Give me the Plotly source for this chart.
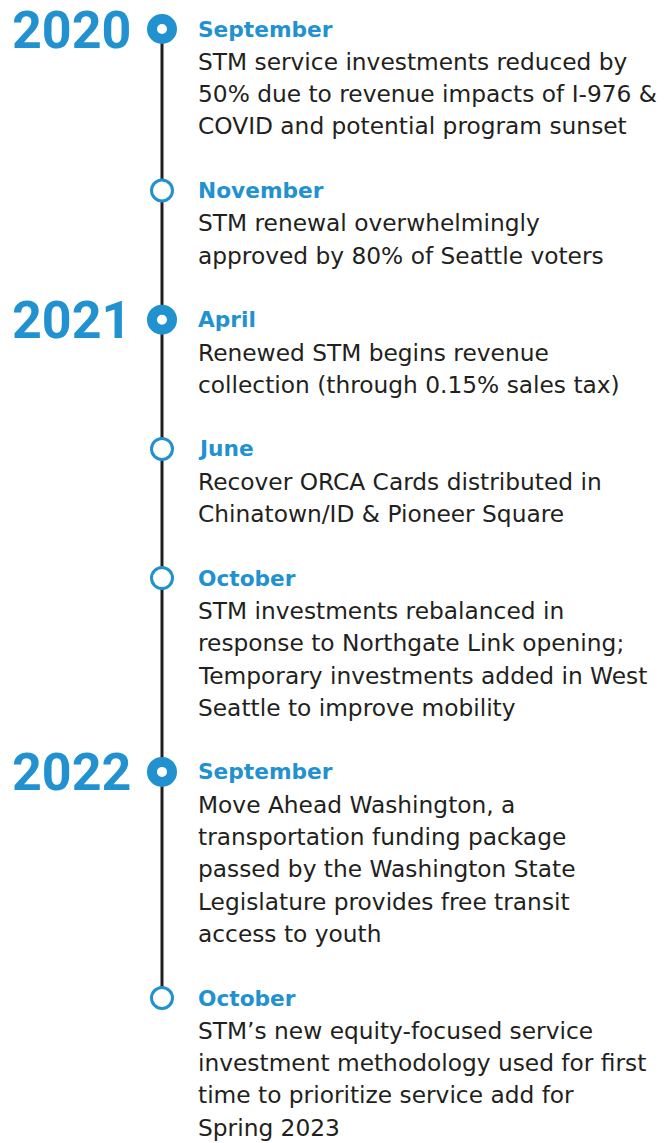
import plotly.graph_objects as go

# ---- data ----
years = ["2020", "2021", "2022"]
event_years = ["2020", "2020", "2021", "2021", "2021", "2022", "2022"]
months = ["September", "November", "April", "June", "October", "September", "October"]
descriptions = [
    ["STM service investments reduced by",
     "50% due to revenue impacts of I-976 &",
     "COVID and potential program sunset"],
    ["STM renewal overwhelmingly",
     "approved by 80% of Seattle voters"],
    ["Renewed STM begins revenue",
     "collection (through 0.15% sales tax)"],
    ["Recover ORCA Cards distributed in",
     "Chinatown/ID & Pioneer Square"],
    ["STM investments rebalanced in",
     "response to Northgate Link opening;",
     "Temporary investments added in West",
     "Seattle to improve mobility"],
    ["Move Ahead Washington, a",
     "transportation funding package",
     "passed by the Washington State",
     "Legislature provides free transit",
     "access to youth"],
    ["STM\u2019s new equity-focused service",
     "investment methodology used for first",
     "time to prioritize service add for",
     "Spring 2023"],
]

# ---- styling / layout constants ----
PAGE_W, PAGE_H = 670, 1143
OFF = 8  # default body margin of the html page
BLUE = "#2291D0"
DARK = "#231F20"
LINE_H = 32.3
TOP = 29
AXIS_X = 162
TEXT_X = 196
YEAR_X = 133
BODY_FONT = "DejaVu Sans"
YEAR_FONT = "Roboto"
BODY_SIZE = 23.3
TITLE_SIZE = 21.7

# compute vertical positions from line counts
title_y = []
y = TOP
for desc in descriptions:
    title_y.append(y)
    y += LINE_H * (len(desc) + 2)

first_of_year = []
seen = set()
for yr in event_years:
    first_of_year.append(yr not in seen)
    seen.add(yr)

fig = go.Figure()

fig.add_trace(go.Scatter(
    x=[AXIS_X] * len(title_y), y=title_y, mode="lines",
    line=dict(color=DARK, width=3), hoverinfo="skip", showlegend=False))

sx = [AXIS_X for f in first_of_year if not f]
sy = [t for t, f in zip(title_y, first_of_year) if not f]
fig.add_trace(go.Scatter(
    x=sx, y=sy, mode="markers",
    marker=dict(size=21, color="white", line=dict(color=BLUE, width=3)),
    hoverinfo="skip", showlegend=False))

yx = [AXIS_X for f in first_of_year if f]
yy = [t for t, f in zip(title_y, first_of_year) if f]
fig.add_trace(go.Scatter(
    x=yx, y=yy, mode="markers",
    marker=dict(size=20, color="white", line=dict(color=BLUE, width=10)),
    hoverinfo="skip", showlegend=False))

annotations = []
for i, (yr, mo, desc) in enumerate(zip(event_years, months, descriptions)):
    ty = title_y[i]
    if first_of_year[i]:
        annotations.append(dict(
            x=YEAR_X, y=ty + 1, xref="x", yref="y", xanchor="right", yanchor="middle",
            text="<b>" + yr + "</b>", showarrow=False,
            font=dict(family=YEAR_FONT, size=52, color=BLUE)))
    annotations.append(dict(
        x=TEXT_X, y=ty, xref="x", yref="y", xanchor="left", yanchor="middle",
        text="<b>" + mo + "</b>", showarrow=False,
        font=dict(family=BODY_FONT, size=TITLE_SIZE, color=BLUE)))
    for j, line in enumerate(desc):
        annotations.append(dict(
            x=TEXT_X, y=ty + LINE_H * (j + 1), xref="x", yref="y",
            xanchor="left", yanchor="middle",
            text=line, showarrow=False,
            font=dict(family=BODY_FONT, size=BODY_SIZE, color=DARK)))

fig.update_layout(
    width=PAGE_W - OFF, height=PAGE_H - OFF,
    margin=dict(l=0, r=0, t=0, b=0),
    paper_bgcolor="white", plot_bgcolor="white",
    xaxis=dict(range=[OFF, PAGE_W], visible=False, fixedrange=True),
    yaxis=dict(range=[PAGE_H, OFF], visible=False, fixedrange=True),
    annotations=annotations,
    showlegend=False,
)

fig.write_html("out.html")
